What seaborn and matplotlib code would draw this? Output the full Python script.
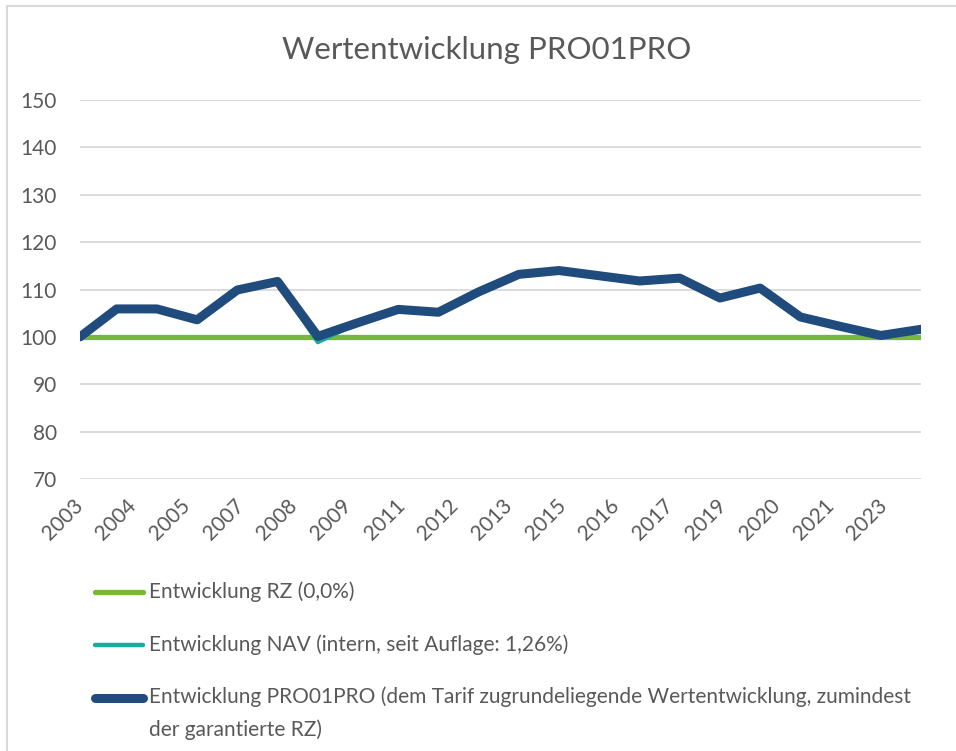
import pandas as pd
import matplotlib.pyplot as plt
import seaborn as sns
from matplotlib.lines import Line2D
from matplotlib.patches import Rectangle

# Data (index value, start = 100)
dates = ['2003-02-01', '2003-12-31', '2004-12-31', '2005-12-31', '2006-12-31',
         '2007-12-31', '2008-12-31', '2009-12-31', '2010-12-31', '2011-12-31',
         '2012-12-31', '2013-12-31', '2014-12-31', '2015-12-31', '2016-12-31',
         '2017-12-31', '2018-12-31', '2019-12-31', '2020-12-31', '2021-12-31',
         '2022-12-31', '2023-12-31']
rz = [100.0] * 22
nav = [100.0, 105.9, 105.9, 103.6, 109.9, 111.7, 98.9, 103.0, 105.8, 105.2, 109.5,
       113.2, 114.0, 112.9, 111.8, 112.4, 108.2, 110.3, 104.2, 102.2, 100.3, 101.6]
pro = [100.0, 105.9, 105.9, 103.6, 109.9, 111.7, 100.1, 103.0, 105.8, 105.2, 109.5,
       113.2, 114.0, 112.9, 111.8, 112.4, 108.2, 110.3, 104.2, 102.2, 100.3, 101.6]
tick_labels = ['2003', '2004', '2005', '2007', '2008', '2009', '2011', '2012',
               '2013', '2015', '2016', '2017', '2019', '2020', '2021', '2023']
y_ticks = [70, 80, 90, 100, 110, 120, 130, 140, 150]

labels = ['Entwicklung RZ (0,0%)',
          'Entwicklung NAV (intern, seit Auflage: 1,26%)',
          'Entwicklung PRO01PRO (dem Tarif zugrundeliegende Wertentwicklung, zumindest\nder garantierte RZ)']
colors = ['#77B83C', '#1AABA0', '#1F4B7D']

sns.set_style('white')
plt.rcParams['font.family'] = ['Lato', 'DejaVu Sans']
text_color = '#595959'
grid_color = '#D9D9D9'
fs = 15

df = pd.DataFrame({'Datum': pd.to_datetime(dates), 'RZ': rz, 'NAV': nav, 'PRO': pro})

W, H = 956, 751
fig = plt.figure(figsize=(W / 100, H / 100), dpi=100)
ax = fig.add_axes([80 / W, 1 - 479 / H, 841 / W, 379 / H])

sns.lineplot(data=df, x='Datum', y='RZ', color=colors[0], lw=3.8, ax=ax)
sns.lineplot(data=df, x='Datum', y='NAV', color=colors[1], lw=3.2, ax=ax,
             solid_joinstyle='round')
sns.lineplot(data=df, x='Datum', y='PRO', color=colors[2], lw=6.5, ax=ax,
             solid_joinstyle='round', solid_capstyle='round')

ax.set_xlim(df['Datum'].iloc[0], df['Datum'].iloc[-1])
ax.set_ylim(70, 150)
ax.set_yticks(y_ticks)
ax.set_yticklabels([str(v) for v in y_ticks], fontsize=fs, color=text_color)
tick_dates = pd.date_range(dates[0], periods=len(tick_labels), freq='16MS')
ax.set_xticks(tick_dates)
ax.set_xticklabels(tick_labels, rotation=45, ha='right', va='center',
                   rotation_mode='anchor', fontsize=fs, color=text_color)
ax.tick_params(axis='x', length=6, width=1.3, color=grid_color, pad=11)
ax.tick_params(axis='y', length=0, pad=16.5)
ax.set_xlabel('')
ax.set_ylabel('')
for s in ax.spines.values():
    s.set_visible(False)
ax.grid(axis='y', color=grid_color, lw=1.3)
ax.grid(axis='x', visible=False)
ax.set_axisbelow(True)

fig.text(487 / W, 1 - 50 / H, 'Wertentwicklung PRO01PRO', ha='center', va='center',
         fontsize=22.5, color=text_color)

# legend below the plot
rows = [592, 645, 698]
widths = [3.8, 3.2, 6.5]
for lab, c, lw, y in zip(labels, colors, widths, rows):
    fig.add_artist(Line2D([95 / W, 143 / W], [1 - y / H, 1 - y / H], color=c, lw=lw,
                          solid_capstyle='round'))
    if '\n' in lab:
        fig.text(149 / W, 1 - (y - 12) / H, lab, ha='left', va='top', fontsize=fs,
                 color=text_color, linespacing=1.75)
    else:
        fig.text(149 / W, 1 - y / H, lab, ha='left', va='center', fontsize=fs,
                 color=text_color)

# chart frame
fig.add_artist(Rectangle((7 / W, -0.05), 1.2, 1.05 - 6 / H, fill=False,
                         edgecolor=grid_color, lw=1.5, transform=fig.transFigure))

fig.savefig('out.png', dpi=100)
